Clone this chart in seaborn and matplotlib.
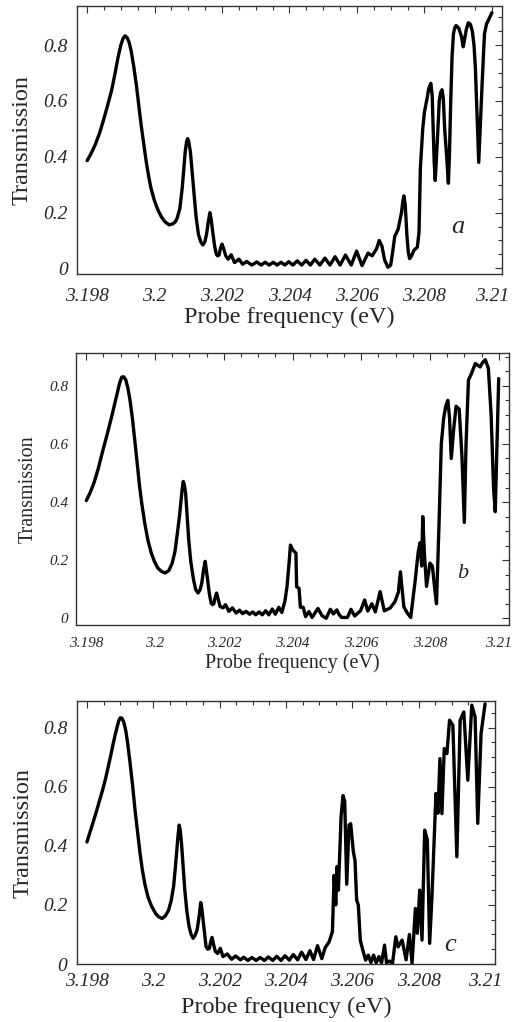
import numpy as np
import pandas as pd
import matplotlib
matplotlib.use("Agg")
import matplotlib.pyplot as plt
from matplotlib.ticker import FixedLocator, MultipleLocator, FuncFormatter
import seaborn as sns

# ------ datos (frecuencia en eV, transmision) ------
freq_a = [3.19800, 3.19812, 3.19824, 3.19837, 3.19849, 3.19861, 3.19873, 3.19883, 3.19892,
          3.19900, 3.19907, 3.19913, 3.19919, 3.19925, 3.19931, 3.19938, 3.19946, 3.19953,
          3.19960, 3.19968, 3.19975, 3.19982, 3.19989, 3.19999, 3.20009, 3.20020, 3.20030,
          3.20043, 3.20055, 3.20062, 3.20067, 3.20075, 3.20082, 3.20087, 3.20091, 3.20095,
          3.20098, 3.20101, 3.20106, 3.20111, 3.20117, 3.20123, 3.20130, 3.20137, 3.20143,
          3.20149, 3.20154, 3.20159, 3.20164, 3.20168, 3.20172, 3.20178, 3.20183, 3.20187,
          3.20191, 3.20196, 3.20200, 3.20205, 3.20211, 3.20218, 3.20227, 3.20237, 3.20250,
          3.20261, 3.20273, 3.20288, 3.20303, 3.20316, 3.20328, 3.20340, 3.20352, 3.20363,
          3.20375, 3.20386, 3.20398, 3.20410, 3.20423, 3.20436, 3.20449, 3.20462, 3.20475,
          3.20490, 3.20505, 3.20520, 3.20535, 3.20550, 3.20566, 3.20583, 3.20599, 3.20615,
          3.20633, 3.20645, 3.20658, 3.20666, 3.20674, 3.20682, 3.20692, 3.20700, 3.20706,
          3.20712, 3.20722, 3.20732, 3.20736, 3.20739, 3.20743, 3.20748, 3.20752, 3.20756,
          3.20762, 3.20769, 3.20779, 3.20784, 3.20788, 3.20795, 3.20800, 3.20808, 3.20813,
          3.20819, 3.20823, 3.20826, 3.20829, 3.20832, 3.20835, 3.20838, 3.20844, 3.20848,
          3.20852, 3.20856, 3.20860, 3.20866, 3.20871, 3.20874, 3.20878, 3.20882, 3.20886,
          3.20890, 3.20894, 3.20902, 3.20910, 3.20915, 3.20919, 3.20924, 3.20930, 3.20936,
          3.20942, 3.20947, 3.20951, 3.20956, 3.20961, 3.20966, 3.20971, 3.20978, 3.20984,
          3.20990, 3.21000]
trans_a = [0.386, 0.412, 0.443, 0.485, 0.533, 0.585, 0.640, 0.700, 0.758,
           0.800, 0.825, 0.833, 0.826, 0.808, 0.776, 0.725, 0.657, 0.585,
           0.515, 0.445, 0.384, 0.333, 0.289, 0.245, 0.212, 0.185, 0.168,
           0.156, 0.160, 0.168, 0.180, 0.215, 0.289, 0.360, 0.420, 0.455,
           0.465, 0.455, 0.420, 0.350, 0.265, 0.185, 0.122, 0.095, 0.084,
           0.095, 0.122, 0.165, 0.200, 0.175, 0.134, 0.080, 0.051, 0.045,
           0.048, 0.075, 0.087, 0.070, 0.045, 0.033, 0.049, 0.021, 0.033,
           0.015, 0.025, 0.012, 0.023, 0.012, 0.022, 0.012, 0.022, 0.012,
           0.022, 0.012, 0.024, 0.012, 0.027, 0.012, 0.029, 0.012, 0.033,
           0.012, 0.037, 0.012, 0.042, 0.012, 0.048, 0.012, 0.062, 0.010,
           0.055, 0.045, 0.070, 0.100, 0.080, 0.030, 0.004, 0.012, 0.060,
           0.115, 0.140, 0.200, 0.240, 0.260, 0.230, 0.120, 0.060, 0.035,
           0.045, 0.065, 0.076, 0.130, 0.360, 0.500, 0.560, 0.610, 0.645,
           0.663, 0.620, 0.500, 0.380, 0.315, 0.380, 0.450, 0.600, 0.630,
           0.640, 0.610, 0.500, 0.400, 0.305, 0.400, 0.600, 0.760, 0.840,
           0.862, 0.870, 0.860, 0.830, 0.794, 0.820, 0.855, 0.880, 0.875,
           0.850, 0.800, 0.720, 0.550, 0.380, 0.520, 0.660, 0.840, 0.875,
           0.890, 0.916]

freq_b = [3.19800, 3.19811, 3.19822, 3.19834, 3.19846, 3.19860, 3.19874, 3.19883, 3.19891,
          3.19897, 3.19903, 3.19909, 3.19915, 3.19921, 3.19927, 3.19934, 3.19941, 3.19948,
          3.19955, 3.19962, 3.19970, 3.19979, 3.19989, 3.19998, 3.20008, 3.20018, 3.20029,
          3.20040, 3.20050, 3.20058, 3.20065, 3.20071, 3.20076, 3.20079, 3.20082, 3.20085,
          3.20089, 3.20093, 3.20098, 3.20104, 3.20112, 3.20118, 3.20125, 3.20131, 3.20136,
          3.20141, 3.20146, 3.20149, 3.20153, 3.20158, 3.20163, 3.20167, 3.20171, 3.20175,
          3.20179, 3.20184, 3.20189, 3.20198, 3.20205, 3.20215, 3.20225, 3.20236, 3.20246,
          3.20255, 3.20265, 3.20275, 3.20284, 3.20293, 3.20303, 3.20312, 3.20322, 3.20331,
          3.20341, 3.20350, 3.20360, 3.20369, 3.20378, 3.20384, 3.20390, 3.20394, 3.20400,
          3.20405, 3.20410, 3.20412, 3.20419, 3.20423, 3.20431, 3.20438, 3.20448, 3.20457,
          3.20474, 3.20486, 3.20498, 3.20510, 3.20519, 3.20529, 3.20536, 3.20543, 3.20560,
          3.20570, 3.20581, 3.20598, 3.20610, 3.20619, 3.20631, 3.20641, 3.20655, 3.20667,
          3.20684, 3.20698, 3.20708, 3.20714, 3.20724, 3.20733, 3.20744, 3.20757, 3.20766,
          3.20771, 3.20776, 3.20779, 3.20784, 3.20790, 3.20800, 3.20807, 3.20814, 3.20819,
          3.20826, 3.20833, 3.20840, 3.20846, 3.20852, 3.20857, 3.20862, 3.20869, 3.20876,
          3.20885, 3.20893, 3.20900, 3.20905, 3.20912, 3.20920, 3.20932, 3.20940, 3.20946,
          3.20953, 3.20961, 3.20970, 3.20978, 3.20985, 3.20990, 3.20995, 3.21000]
trans_b = [0.405, 0.432, 0.465, 0.512, 0.568, 0.630, 0.695, 0.740, 0.780,
           0.810, 0.830, 0.831, 0.820, 0.792, 0.752, 0.690, 0.614, 0.535,
           0.454, 0.390, 0.328, 0.270, 0.225, 0.196, 0.173, 0.162, 0.156,
           0.164, 0.190, 0.230, 0.293, 0.350, 0.408, 0.445, 0.471, 0.460,
           0.431, 0.360, 0.270, 0.195, 0.133, 0.100, 0.087, 0.098, 0.121,
           0.165, 0.196, 0.170, 0.133, 0.085, 0.053, 0.047, 0.050, 0.072,
           0.087, 0.065, 0.041, 0.036, 0.047, 0.024, 0.036, 0.018, 0.028,
           0.016, 0.024, 0.014, 0.022, 0.012, 0.022, 0.012, 0.026, 0.012,
           0.032, 0.014, 0.038, 0.020, 0.060, 0.109, 0.190, 0.252, 0.237,
           0.230, 0.224, 0.109, 0.103, 0.038, 0.038, 0.006, 0.023, 0.003,
           0.034, 0.009, 0.000, 0.031, 0.015, 0.029, 0.012, 0.003, 0.003,
           0.031, 0.008, 0.026, 0.063, 0.025, 0.050, 0.022, 0.092, 0.026,
           0.035, 0.057, 0.090, 0.160, 0.040, 0.020, 0.003, 0.130, 0.230,
           0.260, 0.180, 0.350, 0.220, 0.110, 0.190, 0.180, 0.100, 0.050,
           0.310, 0.600, 0.690, 0.730, 0.750, 0.690, 0.550, 0.650, 0.730,
           0.720, 0.560, 0.330, 0.600, 0.820, 0.840, 0.877, 0.870, 0.865,
           0.880, 0.890, 0.860, 0.700, 0.450, 0.367, 0.600, 0.825]

freq_c = [3.19800, 3.19825, 3.19847, 3.19856, 3.19864, 3.19872, 3.19879, 3.19886, 3.19892,
          3.19896, 3.19900, 3.19905, 3.19911, 3.19917, 3.19923, 3.19930, 3.19938, 3.19945,
          3.19953, 3.19960, 3.19967, 3.19975, 3.19984, 3.19995, 3.20007, 3.20016, 3.20026,
          3.20036, 3.20046, 3.20054, 3.20061, 3.20066, 3.20071, 3.20075, 3.20078, 3.20081,
          3.20085, 3.20090, 3.20095, 3.20101, 3.20108, 3.20114, 3.20120, 3.20126, 3.20132,
          3.20138, 3.20143, 3.20146, 3.20150, 3.20155, 3.20159, 3.20164, 3.20169, 3.20173,
          3.20177, 3.20182, 3.20187, 3.20194, 3.20202, 3.20210, 3.20223, 3.20236, 3.20248,
          3.20263, 3.20272, 3.20285, 3.20297, 3.20310, 3.20322, 3.20335, 3.20347, 3.20360,
          3.20372, 3.20385, 3.20397, 3.20410, 3.20422, 3.20435, 3.20447, 3.20460, 3.20472,
          3.20483, 3.20495, 3.20508, 3.20518, 3.20530, 3.20540, 3.20545, 3.20550, 3.20554,
          3.20558, 3.20566, 3.20572, 3.20577, 3.20583, 3.20590, 3.20595, 3.20603, 3.20608,
          3.20613, 3.20618, 3.20624, 3.20632, 3.20640, 3.20648, 3.20656, 3.20664, 3.20672,
          3.20680, 3.20688, 3.20697, 3.20703, 3.20712, 3.20721, 3.20731, 3.20738, 3.20750,
          3.20762, 3.20772, 3.20780, 3.20790, 3.20796, 3.20803, 3.20810, 3.20818, 3.20826,
          3.20833, 3.20840, 3.20852, 3.20858, 3.20864, 3.20870, 3.20877, 3.20885, 3.20893,
          3.20903, 3.20915, 3.20925, 3.20936, 3.20948, 3.20960, 3.20970, 3.20978, 3.20988,
          3.21000]
trans_c = [0.413, 0.503, 0.588, 0.627, 0.667, 0.707, 0.745, 0.780, 0.807,
           0.823, 0.833, 0.832, 0.819, 0.790, 0.745, 0.680, 0.600, 0.520,
           0.441, 0.375, 0.318, 0.268, 0.227, 0.195, 0.171, 0.160, 0.154,
           0.162, 0.182, 0.215, 0.261, 0.320, 0.385, 0.440, 0.470, 0.455,
           0.408, 0.330, 0.250, 0.180, 0.126, 0.100, 0.087, 0.097, 0.115,
           0.160, 0.208, 0.190, 0.149, 0.095, 0.059, 0.050, 0.053, 0.075,
           0.090, 0.065, 0.042, 0.036, 0.053, 0.025, 0.034, 0.016, 0.027,
           0.014, 0.023, 0.012, 0.022, 0.012, 0.022, 0.012, 0.024, 0.012,
           0.026, 0.012, 0.028, 0.013, 0.032, 0.014, 0.040, 0.015, 0.045,
           0.015, 0.062, 0.018, 0.055, 0.075, 0.110, 0.300, 0.200, 0.330,
           0.250, 0.500, 0.570, 0.550, 0.270, 0.470, 0.475, 0.380, 0.350,
           0.216, 0.200, 0.080, 0.045, 0.013, 0.030, 0.005, 0.030, 0.004,
           0.025, 0.004, 0.064, 0.004, 0.010, 0.002, 0.092, 0.058, 0.081,
           0.014, 0.100, 0.002, 0.188, 0.104, 0.250, 0.081, 0.453, 0.420,
           0.070, 0.228, 0.577, 0.510, 0.695, 0.509, 0.729, 0.712, 0.825,
           0.808, 0.363, 0.825, 0.853, 0.622, 0.876, 0.836, 0.476, 0.780,
           0.880]

x_ticks = [3.198, 3.2, 3.202, 3.204, 3.206, 3.208, 3.21]
y_ticks = [0, 0.2, 0.4, 0.6, 0.8]
letras = ["a", "b", "c"]

sns.set_style("white")
plt.rcParams["font.family"] = ["Liberation Serif", "DejaVu Serif"]

fig = plt.figure(figsize=(5.32, 10.22), dpi=100)

# [rect, ylim, tick size, label size, ylabel x, xlabel y, pad x, pad y, letter pos, letter size]
paneles = [
    ([77/532, 748/1022, 425/532, 268/1022], (-0.02, 0.94), 14, 17.5, -0.104, -0.123, 10, 6.5, (0.896, 0.175), 19),
    ([76/532, 397/1022, 433/532, 272/1022], (-0.023, 0.913), 11, 14.5, -0.088, -0.103, 8.5, 5.5, (0.894, 0.19), 16),
    ([77/532, 58/1022, 418/532, 263/1022], (0.0, 0.89), 14, 17.5, -0.105, -0.124, 6.5, 7, (0.892, 0.072), 19),
]
datos = [(freq_a, trans_a), (freq_b, trans_b), (freq_c, trans_c)]


def panel(rect, ylim, tsize, lsize, ylx, xly, padx, pady, lpos, lett_size, fx, ty, letra):
    ax = fig.add_axes(rect)
    df = pd.DataFrame({"f": fx, "T": ty})
    sns.lineplot(data=df, x="f", y="T", ax=ax, color="black", lw=2.4,
                 estimator=None, sort=False, solid_joinstyle="round",
                 solid_capstyle="round")
    ax.set_xlim(3.1977, 3.2103)
    ax.set_ylim(*ylim)
    ax.xaxis.set_major_locator(FixedLocator(x_ticks))
    ax.xaxis.set_minor_locator(MultipleLocator(0.0005))
    ax.yaxis.set_major_locator(FixedLocator(y_ticks))
    ax.yaxis.set_minor_locator(MultipleLocator(0.05))
    fmt = FuncFormatter(lambda v, p: f"{v:g}")
    ax.xaxis.set_major_formatter(fmt)
    ax.yaxis.set_major_formatter(fmt)
    ax.tick_params(which="both", direction="in", top=True, right=True, width=0.8, color="#333333")
    ax.tick_params(which="major", length=5)
    ax.tick_params(which="minor", length=3)
    ax.tick_params(axis="x", which="major", labelsize=tsize, pad=padx)
    ax.tick_params(axis="y", which="major", labelsize=tsize, pad=pady)
    for lab in ax.get_xticklabels() + ax.get_yticklabels():
        lab.set_fontstyle("italic")
    for s in ax.spines.values():
        s.set_color("#333333")
        s.set_linewidth(1.0)
    ax.set_xlabel("Probe frequency (eV)", fontsize=lsize)
    ax.set_ylabel("Transmission", fontsize=lsize)
    ax.xaxis.set_label_coords(0.5, xly)
    ax.yaxis.set_label_coords(ylx, 0.5)
    ax.text(lpos[0], lpos[1], letra, transform=ax.transAxes, fontsize=lett_size,
            fontstyle="italic", ha="center", va="center")
    return ax


for (rect, ylim, ts, ls, ylx, xly, px, py, lp, lsz), (fx, ty), letra in zip(paneles, datos, letras):
    panel(rect, ylim, ts, ls, ylx, xly, px, py, lp, lsz, fx, ty, letra)

fig.savefig("out.png", dpi=100)
